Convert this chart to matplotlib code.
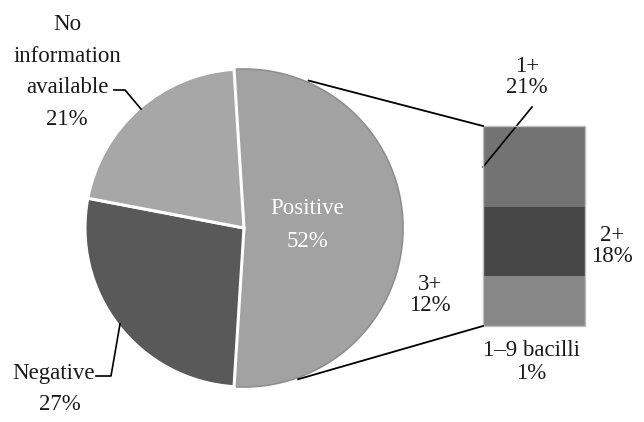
import numpy as np
import matplotlib.pyplot as plt

# pie data (Positive split out into the bar)
pie_labels = ['Positive', 'Negative', 'No information available']
pie_values = [52, 27, 21]
pie_colors = ['#a2a2a2', '#595959', '#a7a7a7']

# bar of "Positive" by grade, stacked bottom to top
bar_labels = ['1\u20139 bacilli', '3+', '2+', '1+']
bar_values = [1, 12, 18, 21]
bar_colors = ['#878787', '#878787', '#474747', '#737373']

W, H = 644, 422
plt.rcParams['font.family'] = ['Liberation Serif', 'DejaVu Serif']
fig = plt.figure(figsize=(W / 100, H / 100), dpi=100)
ax = fig.add_axes([0, 0, 1, 1])

def py(y):
    # pixel row -> data y
    return H - y

cx, cy, r = 244, py(228), 159
explode = [5 / r, 0, 0]
# split slice centred on the right, like a bar-of-pie
start = 180 * pie_values[0] / sum(pie_values)
wedges, _ = ax.pie(pie_values, colors=pie_colors, startangle=start,
                   counterclock=False, center=(cx, cy), radius=r, explode=explode,
                   frame=True, wedgeprops=dict(edgecolor='white', linewidth=2.2))
ax.set_xlim(0, W)
ax.set_ylim(0, H)
ax.set_aspect('equal')
ax.axis('off')
wedges[0].set_edgecolor('#8f8f8f')
wedges[0].set_linewidth(1.2)

# stacked bar
bx, bw = 534, 102
top, bottom = py(126), py(326)
scale = (top - bottom) / sum(bar_values)
base = bottom
for v, c in zip(bar_values, bar_colors):
    ax.bar(bx, v * scale, width=bw, bottom=base, color=c, edgecolor='none', zorder=2)
    base += v * scale
ax.bar(bx, top - bottom, width=bw, bottom=bottom, color='none',
       edgecolor='#bdbdbd', linewidth=1.0, zorder=3)

# connector lines from the positive slice to the bar
pcx = cx + 5
for ang, yb in [(68, top), (-72, bottom)]:
    a = np.deg2rad(ang)
    ax.plot([pcx + r * np.cos(a), bx - bw / 2], [cy + r * np.sin(a), yb],
            color='black', lw=1.3, zorder=4)

fs = 16.5
txt = dict(fontsize=fs, ha='center', va='center', color='#1a1a1a')

# pie labels
ax.text(67, py(72), 'No\ninformation\navailable\n21%', linespacing=1.65, **txt)
ax.plot([114, 125, 141], [py(90), py(90), py(109)], color='black', lw=1.2)
ax.text(54, py(373), 'Negative', **txt)
ax.text(60, py(405), '27%', **txt)
ax.plot([96, 111, 120], [py(376), py(376), py(324)], color='black', lw=1.2)
ax.text(307, py(225), 'Positive\n52%', linespacing=1.8,
        fontsize=fs, ha='center', va='center', color='white')

# bar labels
ax.text(527, py(77), '1+\n21%', linespacing=1.02, **txt)
ax.plot([532, 483], [py(107), py(167)], color='black', lw=1.2)
ax.text(612, py(246), '2+\n18%', linespacing=1.05, **txt)
ax.text(430, py(295), '3+\n12%', linespacing=1.0, **txt)
ax.text(531, py(362), '1\u20139 bacilli\n1%', linespacing=1.08, **txt)

fig.savefig('out.png', dpi=100)
